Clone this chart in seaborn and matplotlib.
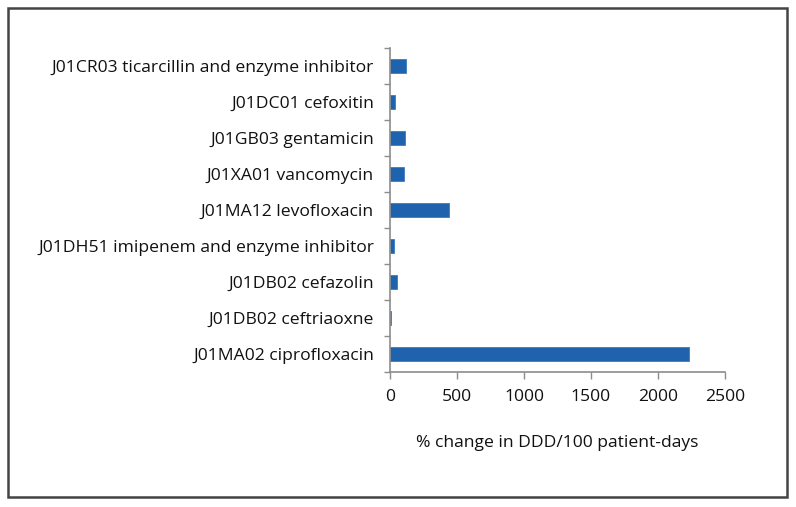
import pandas as pd
import matplotlib.pyplot as plt
import seaborn as sns
from matplotlib.patches import Rectangle

drugs = [
    'J01CR03 ticarcillin and enzyme inhibitor',
    'J01DC01 cefoxitin',
    'J01GB03 gentamicin',
    'J01XA01 vancomycin',
    'J01MA12 levofloxacin',
    'J01DH51 imipenem and enzyme inhibitor',
    'J01DB02 cefazolin',
    'J01DB02 ceftriaoxne',
    'J01MA02 ciprofloxacin',
]
pct_change = [120, 40, 112, 107, 443, 27, 50, 8, 2230]
x_ticks = [0, 500, 1000, 1500, 2000, 2500]

df = pd.DataFrame({'drug': drugs, 'change': pct_change})

sns.set_style('ticks')
plt.rcParams['font.family'] = ['Open Sans', 'DejaVu Sans']

fig = plt.figure(figsize=(7.96, 5.07), dpi=100)
ax = fig.add_axes([390 / 796, 1 - 372 / 507, 335 / 796, 324 / 507])

sns.barplot(data=df, x='change', y='drug', orient='h', color='#1f63ae',
            saturation=1, width=0.38, edgecolor='#3a7cc4', linewidth=0.6, ax=ax)

ax.set_xlim(0, 2500)
ax.set_ylim(len(drugs) - 0.5, -0.5)
ax.set_xticks(x_ticks)
ax.set_xticklabels([str(t) for t in x_ticks], fontsize=12.6, color='#111111')
ax.set_yticks(range(len(drugs)))
ax.set_yticklabels(drugs, fontsize=12.6, color='#111111')
ax.tick_params(axis='y', which='major', length=0, pad=11.5)
# ticks between categories on y axis
ax.set_yticks([i - 0.5 for i in range(len(drugs) + 1)], minor=True)
ax.tick_params(axis='y', which='minor', length=4, color='#8c8c8c', width=1)
ax.tick_params(axis='x', length=5, color='#8c8c8c', width=1, pad=7)

sns.despine(ax=ax, top=True, right=True)
for s in ['left', 'bottom']:
    ax.spines[s].set_color('#8c8c8c')
    ax.spines[s].set_linewidth(1.2)

ax.set_xlabel('% change in DDD/100 patient-days', fontsize=12.6, color='#111111', labelpad=22)
ax.set_ylabel('')

fig.patches.append(Rectangle((8 / 796, 10 / 507), 779 / 796, 489 / 507,
                             transform=fig.transFigure, fill=False,
                             edgecolor='#444444', linewidth=1.8))

fig.savefig('out.png', dpi=100)
